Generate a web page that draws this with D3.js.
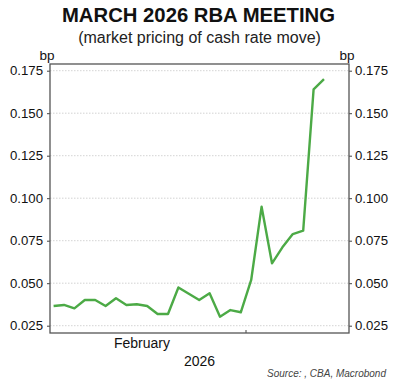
<!DOCTYPE html>
<html>
<head>
<meta charset="utf-8">
<script src="https://cdn.jsdelivr.net/npm/d3@7"></script>
<style>
  body { margin: 0; background: #fff; }
  svg { display: block; }
</style>
</head>
<body>
<div id="chart"></div>
<script>
// business days, Feb-Mar 2026
const dates = [
  '2026-02-03', '2026-02-04', '2026-02-05', '2026-02-06', '2026-02-09',
  '2026-02-10', '2026-02-11', '2026-02-12', '2026-02-13', '2026-02-16',
  '2026-02-17', '2026-02-18', '2026-02-19', '2026-02-20', '2026-02-23',
  '2026-02-24', '2026-02-25', '2026-02-26', '2026-02-27', '2026-03-02',
  '2026-03-03', '2026-03-04', '2026-03-05', '2026-03-06', '2026-03-09',
  '2026-03-10', '2026-03-11'
];
const pricing = [
  0.0366, 0.0372, 0.0352, 0.0401, 0.0401,
  0.0366, 0.0411, 0.0372, 0.0376, 0.0366,
  0.0319, 0.0319, 0.0475, 0.0438, 0.0401,
  0.0441, 0.0303, 0.0342, 0.0329, 0.0519,
  0.0950, 0.0617, 0.0711, 0.0789, 0.0809,
  0.1640, 0.1700
];
const yTicks = [0.025, 0.050, 0.075, 0.100, 0.125, 0.150, 0.175];
const monthLabels = [{ name: 'February', from: '2026-02-02', to: '2026-03-02' }];
const monthTicks = ['2026-03-02'];
const yearLabel = '2026';

const W = 400, H = 385;
const font = '"Liberation Sans", Arial, Helvetica, sans-serif';
const plot = { left: 50, right: 349, top: 64, bottom: 333 };

const parse = d3.timeParse('%Y-%m-%d');
const origin = parse('2026-02-02');
// count of weekdays since Feb 2
const bizIndex = s => d3.timeDay.range(origin, parse(s)).filter(d => d.getDay() % 6 !== 0).length;

const data = dates.map((d, i) => ({ i: bizIndex(d), v: pricing[i] }));

const x = d3.scaleLinear().domain([0, 20]).range([38, 246]);
const y = d3.scaleLinear().domain([0.025, 0.175]).range([325.7, 70.7]);

const svg = d3.select('#chart').append('svg')
  .attr('width', W).attr('height', H)
  .attr('font-family', font);

svg.append('text')
  .attr('x', 198.5).attr('y', 22)
  .attr('text-anchor', 'middle')
  .attr('font-size', 20.3).attr('font-weight', 'bold')
  .attr('fill', '#111')
  .text('MARCH 2026 RBA MEETING');

svg.append('text')
  .attr('x', 199.5).attr('y', 42.5)
  .attr('text-anchor', 'middle')
  .attr('font-size', 16)
  .attr('fill', '#222')
  .text('(market pricing of cash rate move)');

// gridlines
svg.append('g')
  .selectAll('line')
  .data(yTicks)
  .join('line')
  .attr('x1', plot.left).attr('x2', plot.right)
  .attr('y1', d => y(d)).attr('y2', d => y(d))
  .attr('stroke', '#c8c8c8')
  .attr('stroke-width', 0.8)
  .attr('stroke-dasharray', '1.5,1.5');

const fmt = d3.format('.3f');

const leftAxis = svg.append('g')
  .attr('transform', `translate(${plot.left},0)`)
  .call(d3.axisLeft(y).tickValues(yTicks).tickFormat(fmt).tickSize(3).tickPadding(4));
const rightAxis = svg.append('g')
  .attr('transform', `translate(${plot.right},0)`)
  .call(d3.axisRight(y).tickValues(yTicks).tickFormat(fmt).tickSize(3).tickPadding(3));
[leftAxis, rightAxis].forEach(a => {
  a.select('.domain').remove();
  a.selectAll('line').attr('stroke', '#444');
  a.selectAll('text')
    .attr('font-family', font)
    .attr('font-size', 13.2)
    .attr('fill', '#111');
});

svg.append('text')
  .attr('x', 47).attr('y', 60)
  .attr('text-anchor', 'middle')
  .attr('font-size', 13.5).attr('fill', '#111')
  .text('bp');
svg.append('text')
  .attr('x', 347).attr('y', 60)
  .attr('text-anchor', 'middle')
  .attr('font-size', 13.5).attr('fill', '#111')
  .text('bp');

// month tick
svg.append('g')
  .selectAll('line')
  .data(monthTicks)
  .join('line')
  .attr('x1', d => x(bizIndex(d))).attr('x2', d => x(bizIndex(d)))
  .attr('y1', plot.bottom - 3).attr('y2', plot.bottom)
  .attr('stroke', '#444');

svg.append('g')
  .selectAll('text')
  .data(monthLabels)
  .join('text')
  .attr('x', d => (x(bizIndex(d.from)) + x(bizIndex(d.to))) / 2)
  .attr('y', 348)
  .attr('text-anchor', 'middle')
  .attr('font-size', 14).attr('fill', '#111')
  .text(d => d.name);

svg.append('text')
  .attr('x', (plot.left + plot.right) / 2).attr('y', 366)
  .attr('text-anchor', 'middle')
  .attr('font-size', 14).attr('fill', '#111')
  .text(yearLabel);

// series
const line = d3.line()
  .x(d => x(d.i + 0.5))
  .y(d => y(d.v));

svg.append('path')
  .datum(data)
  .attr('d', line)
  .attr('fill', 'none')
  .attr('stroke', '#4caa46')
  .attr('stroke-width', 2.4)
  .attr('stroke-linejoin', 'round');

// frame
svg.append('rect')
  .attr('x', plot.left).attr('y', plot.top)
  .attr('width', plot.right - plot.left)
  .attr('height', plot.bottom - plot.top)
  .attr('fill', 'none')
  .attr('stroke', '#555')
  .attr('stroke-width', 1.3);

svg.append('text')
  .attr('x', 386).attr('y', 377)
  .attr('text-anchor', 'end')
  .attr('font-size', 10)
  .attr('font-style', 'italic')
  .attr('fill', '#444')
  .text('Source: , CBA, Macrobond');
</script>
</body>
</html>
